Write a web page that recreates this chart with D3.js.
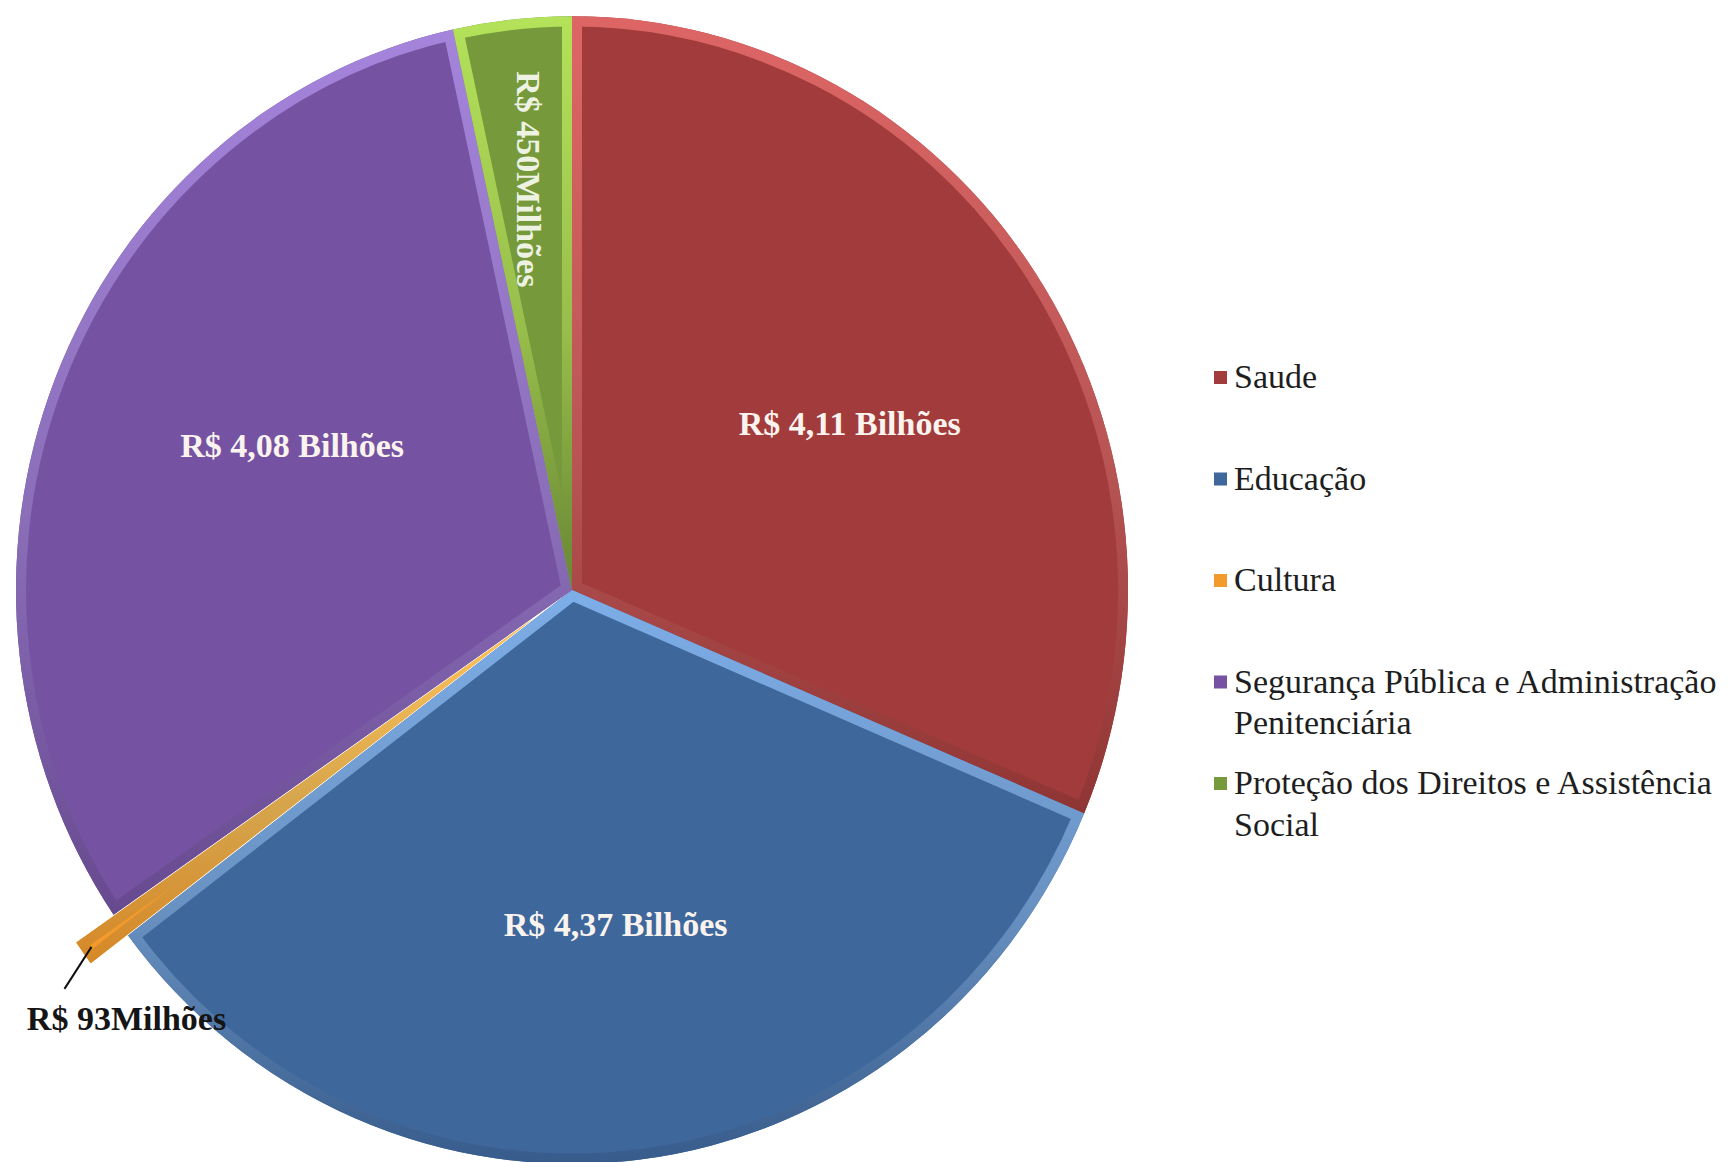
<!DOCTYPE html>
<html lang="pt">
<head>
<meta charset="UTF-8">
<title>Gastos por função</title>
<script src="https://d3js.org/d3.v7.min.js"></script>
<style>
  body { margin: 0; background: #fff; }
  svg { display: block; }
  .lbl { font-family: "Liberation Serif", "Times New Roman", serif; font-weight: bold; font-size: 34px; }
  .leg { font-family: "Liberation Serif", "Times New Roman", serif; font-size: 34px; fill: #1e1e1e; }
</style>
</head>
<body>
<svg width="1734" height="1162"></svg>
<script>
// dados (bilhões de R$)
const categories = ["Saude", "Educação", "Cultura",
  "Segurança Pública e Administração Penitenciária",
  "Proteção dos Direitos e Assistência Social"];
const values = [4.11, 4.37, 0.093, 4.08, 0.45];
const valueLabels = ["R$ 4,11 Bilhões", "R$ 4,37 Bilhões", "R$ 93Milhões", "R$ 4,08 Bilhões", "R$ 450Milhões"];

// cores: base e realce do bisel
const baseColors = ["#a23b3b", "#3e679c", "#f39a2c", "#7553a2", "#76993b"];
const lightColors = ["#dd6665", "#7eaee8", "#ffc45a", "#a584dc", "#b4e25a"];

const svg = d3.select("svg");
const cx = 572, cy = 590, R = 556, sy = 1.032;

const pie = d3.pie().sort(null).value(d => d)(values);
const arc = d3.arc().innerRadius(0).outerRadius(R);
const labelArc = d3.arc().innerRadius(R * 0.58).outerRadius(R * 0.58);
const explode = i => i === 2 ? 46 : 0;
// pequeno ajuste de posição dos rótulos internos (como o Excel faz)
const nudge = { 0: [9, 17], 1: [4, 4], 3: [20, -22] };

const defs = svg.append("defs");
pie.forEach((p, i) => {
  const g = defs.append("linearGradient").attr("id", "bev" + i)
    .attr("x1", 0).attr("y1", 0).attr("x2", 0).attr("y2", 1);
  g.append("stop").attr("offset", "0%").attr("stop-color", lightColors[i]);
  g.append("stop").attr("offset", "55%").attr("stop-color", d3.color(lightColors[i]).darker(0.5));
  g.append("stop").attr("offset", "100%").attr("stop-color", d3.color(baseColors[i]).darker(0.35));
  defs.append("clipPath").attr("id", "clip" + i)
    .append("path").attr("d", arc(p));
});

const pieG = svg.append("g").attr("transform", `translate(${cx},${cy}) scale(1,${sy})`);

const slices = pieG.selectAll(".slice")
  .data(pie)
  .enter().append("g")
  .attr("class", "slice")
  .attr("transform", (d, i) => {
    const m = (d.startAngle + d.endAngle) / 2, e = explode(i);
    return `translate(${e * Math.sin(m)},${-e * Math.cos(m)})`;
  });

slices.append("path")
  .attr("d", arc)
  .attr("fill", (d, i) => baseColors[i]);

// bisel interno
slices.append("path")
  .attr("d", arc)
  .attr("fill", "none")
  .attr("stroke", (d, i) => `url(#bev${i})`)
  .attr("stroke-width", 20)
  .attr("stroke-linejoin", "round")
  .attr("clip-path", (d, i) => `url(#clip${i})`);

// rótulos dentro das fatias
const labG = svg.append("g").attr("transform", `translate(${cx},${cy})`);
[0, 1, 3].forEach(i => {
  const [x, y] = labelArc.centroid(pie[i]);
  labG.append("text").attr("class", "lbl")
    .attr("x", x + nudge[i][0]).attr("y", y * sy + nudge[i][1])
    .attr("text-anchor", "middle").attr("dominant-baseline", "central")
    .attr("fill", "#fbf3ee")
    .text(valueLabels[i]);
});

// rótulo vertical da fatia verde
{
  const p = pie[4], m = (p.startAngle + p.endAngle) / 2, r = R * 0.72;
  const x = r * Math.sin(m), y = -r * Math.cos(m) * sy;
  labG.append("text").attr("class", "lbl")
    .attr("transform", `translate(${x},${y}) rotate(90)`)
    .attr("text-anchor", "middle").attr("dominant-baseline", "central")
    .attr("fill", "#eef2e2")
    .text(valueLabels[4]);
}

// rótulo externo da Cultura com linha guia
{
  const p = pie[2], m = (p.startAngle + p.endAngle) / 2, r = R + explode(2) - 10;
  const x0 = r * Math.sin(m), y0 = -r * Math.cos(m) * sy;
  const x1 = x0 - 27, y1 = y0 + 42;
  labG.append("line")
    .attr("x1", x0).attr("y1", y0).attr("x2", x1).attr("y2", y1)
    .attr("stroke", "#111").attr("stroke-width", 2);
  labG.append("text").attr("class", "lbl")
    .attr("x", x1 + 62).attr("y", y1 + 30)
    .attr("text-anchor", "middle").attr("dominant-baseline", "central")
    .attr("fill", "#151515")
    .text(valueLabels[2]);
}

// legenda
const legX = 1214, legY = 376, legStep = 101.5, lineH = 41.5, maxW = 490;
const leg = svg.append("g");
categories.forEach((c, i) => {
  const y = legY + i * legStep;
  leg.append("rect")
    .attr("x", legX).attr("y", y - 5).attr("width", 13).attr("height", 13)
    .attr("fill", baseColors[i]);
  const t = leg.append("text").attr("class", "leg")
    .attr("x", legX + 20).attr("y", y).attr("dominant-baseline", "central");
  // quebra de linha simples
  const words = c.split(" ");
  let line = [], ts = t.append("tspan").attr("x", legX + 20).attr("y", y), n = 0;
  words.forEach(w => {
    line.push(w);
    ts.text(line.join(" "));
    if (ts.node().getComputedTextLength() > maxW && line.length > 1) {
      line.pop();
      ts.text(line.join(" "));
      line = [w];
      n++;
      ts = t.append("tspan").attr("x", legX + 20).attr("y", y + n * lineH).text(w);
    }
  });
});
</script>
</body>
</html>
